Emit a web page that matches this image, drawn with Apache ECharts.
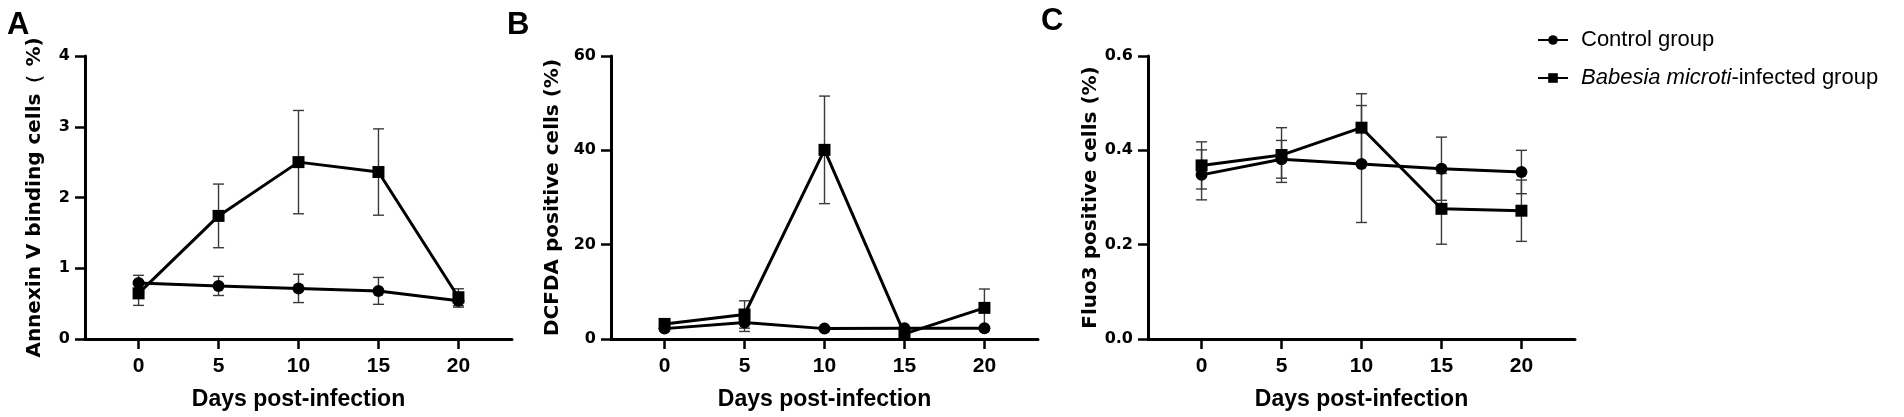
<!DOCTYPE html>
<html style="height: 100%">
<head>
<meta charset="utf-8">
<script src="https://cdn.jsdelivr.net/npm/echarts@6/dist/echarts.min.js"></script>
</head>
<body style="height: 100%; margin: 0; background: #fff">
<div id="container" style="width: 1904px; height: 417px"></div>
<script type="text/javascript">
var days = [0, 5, 10, 15, 20];
var nameControl = 'Control group';
var nameInfected = 'Babesia microti-infected group';

// A: Annexin V
var annexinControl = [0.79, 0.75, 0.715, 0.68, 0.54];
var annexinControlSd = [0.11, 0.135, 0.20, 0.19, 0.09];
var annexinInfected = [0.645, 1.74, 2.50, 2.36, 0.59];
var annexinInfectedSd = [0.17, 0.45, 0.73, 0.61, 0.12];

// B: DCFDA
var dcfdaControl = [2.2, 3.5, 2.2, 2.3, 2.3];
var dcfdaControlSd = [0.5, 1.9, 0.3, 0.3, 0.3];
var dcfdaInfected = [3.2, 5.2, 40.1, 1.1, 6.6];
var dcfdaInfectedSd = [0.6, 2.9, 11.4, 0.5, 4.0];

// C: Fluo3
var fluoControl = [0.348, 0.381, 0.371, 0.361, 0.354];
var fluoControlSd = [0.053, 0.04, 0.124, 0.067, 0.046];
var fluoInfected = [0.368, 0.39, 0.448, 0.276, 0.272];
var fluoInfectedSd = [0.05, 0.058, 0.072, 0.075, 0.065];

var yMax = [4, 60, 0.6];
var yStep = [1, 20, 0.2];
var yNames = ['Annexin V binding cells\uFF08 %)', 'DCFDA positive cells (%)', 'Fluo3 positive cells (%)'];
var yNameGap = [40, 48, 44];
var gridLeft = [85, 611, 1148];

var arial = "Arial, 'Liberation Sans', sans-serif";
var dejavu = "'DejaVu Sans', sans-serif";

var dom = document.getElementById('container');
var myChart = echarts.init(dom);

function pairs(vals) {
    return days.map(function (d, i) { return [d, vals[i]]; });
}
function bars(vals, sd) {
    return days.map(function (d, i) { return [d, vals[i] - sd[i], vals[i] + sd[i]]; });
}

function renderError(params, api) {
    var x = api.value(0);
    var top = api.coord([x, api.value(2)]);
    var bot = api.coord([x, api.value(1)]);
    var half = 5.5;
    var st = { stroke: '#3a3a3a', lineWidth: 1.4 };
    return {
        type: 'group',
        children: [
            { type: 'line', shape: { x1: top[0], y1: top[1], x2: bot[0], y2: bot[1] }, style: st },
            { type: 'line', shape: { x1: top[0] - half, y1: top[1], x2: top[0] + half, y2: top[1] }, style: st },
            { type: 'line', shape: { x1: bot[0] - half, y1: bot[1], x2: bot[0] + half, y2: bot[1] }, style: st }
        ]
    };
}

var panels = [
    [annexinControl, annexinControlSd, annexinInfected, annexinInfectedSd],
    [dcfdaControl, dcfdaControlSd, dcfdaInfected, dcfdaInfectedSd],
    [fluoControl, fluoControlSd, fluoInfected, fluoInfectedSd]
];

var grids = [], xAxes = [], yAxes = [], series = [];
for (var p = 0; p < 3; p++) {
    grids.push({ left: gridLeft[p], top: 56, width: 427, height: 283 });
    xAxes.push({
        type: 'value', gridIndex: p, min: -3.35, max: 23.35,
        name: 'Days post-infection', nameLocation: 'middle', nameGap: 49,
        nameTextStyle: { fontFamily: arial, fontWeight: 'bold', fontSize: 23, color: '#000' },
        axisLine: { onZero: false, lineStyle: { color: '#000', width: 3 } },
        axisTick: { show: true, length: 10, lineStyle: { color: '#000', width: 2.5 }, customValues: days },
        axisLabel: { fontFamily: arial, fontWeight: 'bold', fontSize: 21, color: '#000', margin: 17, customValues: days },
        splitLine: { show: false }
    });
    yAxes.push({
        type: 'value', gridIndex: p, min: 0, max: yMax[p], interval: yStep[p],
        name: yNames[p], nameLocation: 'middle', nameGap: yNameGap[p],
        nameTextStyle: { fontFamily: dejavu, fontWeight: 'bold', fontSize: 20, color: '#000' },
        axisLine: { show: true, onZero: false, lineStyle: { color: '#000', width: 3 } },
        axisTick: { show: true, length: 10, lineStyle: { color: '#000', width: 2.5 } },
        axisLabel: {
            fontFamily: dejavu, fontWeight: 'bold', fontSize: 16, color: '#000', margin: 15,
            formatter: p === 2 ? function (v) { return v.toFixed(1); } : null
        },
        splitLine: { show: false }
    });
    var d = panels[p];
    series.push({
        type: 'custom', xAxisIndex: p, yAxisIndex: p, z: 1, silent: true,
        renderItem: renderError, data: bars(d[0], d[1])
    });
    series.push({
        type: 'custom', xAxisIndex: p, yAxisIndex: p, z: 1, silent: true,
        renderItem: renderError, data: bars(d[2], d[3])
    });
    series.push({
        name: nameControl, type: 'line', xAxisIndex: p, yAxisIndex: p, z: 3,
        symbol: 'circle', symbolSize: 12,
        lineStyle: { color: '#000', width: 3 }, itemStyle: { color: '#000' },
        data: pairs(d[0])
    });
    series.push({
        name: nameInfected, type: 'line', xAxisIndex: p, yAxisIndex: p, z: 4,
        symbol: 'rect', symbolSize: 12,
        lineStyle: { color: '#000', width: 3 }, itemStyle: { color: '#000' },
        data: pairs(d[2])
    });
}

var letterStyle = { fontFamily: arial, fontWeight: 'bold', fontSize: 31, color: '#000' };

var option = {
    animation: false,
    title: [
        { text: 'A', left: 7, top: 10, padding: 0, textStyle: letterStyle },
        { text: 'B', left: 507, top: 10, padding: 0, textStyle: letterStyle },
        { text: 'C', left: 1041, top: 6, padding: 0, textStyle: letterStyle }
    ],
    legend: {
        data: [nameControl, nameInfected],
        orient: 'vertical', left: 1532, top: 23, itemWidth: 30, itemHeight: 12, itemGap: 14,
        selectedMode: false,
        formatter: function (name) {
            return name === nameInfected ? '{i|Babesia microti}-infected group' : name;
        },
        textStyle: {
            fontFamily: arial, fontSize: 22, color: '#000', lineHeight: 24, padding: [0, 0, 0, 8],
            rich: { i: { fontFamily: arial, fontSize: 22, fontStyle: 'italic', color: '#000', lineHeight: 24 } }
        }
    },
    grid: grids,
    xAxis: xAxes,
    yAxis: yAxes,
    series: series
};

myChart.setOption(option, true);
</script>
</body>
</html>
